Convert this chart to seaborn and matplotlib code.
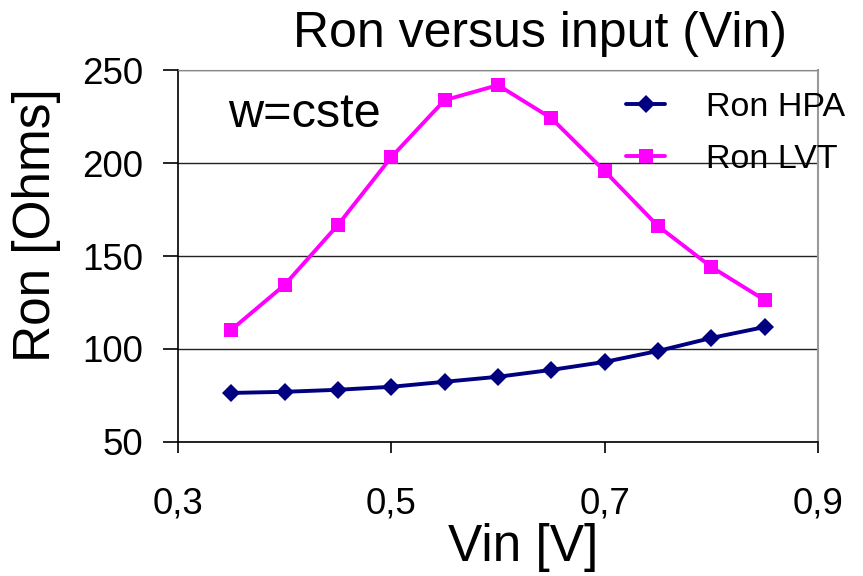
import numpy as np
import pandas as pd
import seaborn as sns
import matplotlib
matplotlib.use("Agg")
import matplotlib.pyplot as plt

# Data
vin = [0.35, 0.40, 0.45, 0.50, 0.55, 0.60, 0.65, 0.70, 0.75, 0.80, 0.85]
ron_hpa = [76.3, 76.9, 78.0, 79.6, 82.3, 85.0, 88.7, 93.0, 98.9, 105.9, 111.8]
ron_lvt = [110.2, 134.4, 166.7, 203.2, 233.9, 242.0, 224.2, 195.7, 166.1, 144.1, 126.3]

x_ticks = [0.3, 0.5, 0.7, 0.9]
x_tick_labels = ["0,3", "0,5", "0,7", "0,9"]
y_ticks = [50, 100, 150, 200, 250]

df = pd.DataFrame({"Vin": vin, "Ron HPA": ron_hpa, "Ron LVT": ron_lvt})
long_df = df.melt(id_vars="Vin", var_name="series", value_name="Ron")

sns.set_style("white", rc={"text.color": "black", "axes.labelcolor": "black",
                           "xtick.color": "black", "ytick.color": "black"})
plt.rcParams["font.family"] = ["Liberation Sans", "DejaVu Sans"]

fig = plt.figure(figsize=(8.63, 5.76), dpi=100)
ax = fig.add_axes([0.206, 0.233, 0.742, 0.645])

sns.lineplot(
    data=long_df, x="Vin", y="Ron", hue="series", style="series",
    palette={"Ron HPA": "#000080", "Ron LVT": "#FF00FF"},
    markers={"Ron HPA": "D", "Ron LVT": "s"},
    dashes=False, linewidth=2.8, markersize=9.5, markeredgewidth=0,
    ax=ax,
)

ax.set_xlim(0.3, 0.9)
ax.set_ylim(50, 250)
ax.set_xticks(x_ticks)
ax.set_xticklabels(x_tick_labels)
ax.set_yticks(y_ticks)
ax.tick_params(axis="both", labelsize=26.5, direction="out", width=1.2,
               color="black", left=True, bottom=True)
ax.tick_params(axis="y", length=11, pad=14)
ax.tick_params(axis="x", length=8, pad=24)
ax.yaxis.grid(True, color="#222222", linewidth=1)
ax.xaxis.grid(False)

for side in ["left", "bottom"]:
    ax.spines[side].set_color("black")
    ax.spines[side].set_linewidth(1.2)
ax.spines["right"].set_color("#999999")
ax.spines["right"].set_linewidth(1.5)
ax.spines["top"].set_color("#888888")

ax.set_xlabel("Vin [V]", fontsize=37)
ax.set_ylabel("Ron [Ohms]", fontsize=37)
ax.xaxis.set_label_coords(0.54, -0.218)
ax.yaxis.set_label_coords(-0.183, 0.583)
ax.set_title("Ron versus input (Vin)", fontsize=36, pad=17, x=0.566)

ax.text(0.078, 0.847, "w=cste", transform=ax.transAxes, fontsize=35,
        va="baseline", ha="left")

leg = ax.legend(loc="upper right", bbox_to_anchor=(1.09, 1.023), frameon=False,
                fontsize=24.5, handlelength=1.15, labelspacing=0.6, handletextpad=1.2)
leg.set_title(None)

fig.savefig("out.png", dpi=100)
